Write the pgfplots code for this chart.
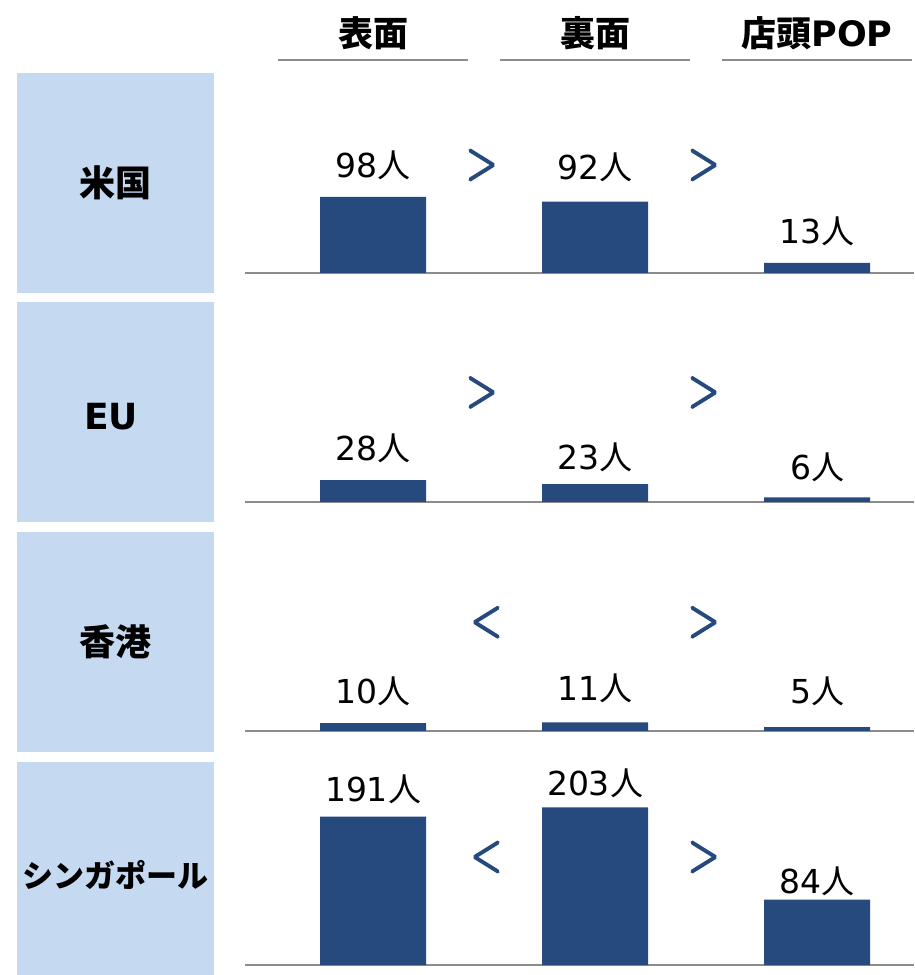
\documentclass[border=0pt]{standalone}
\usepackage{fontspec}
\usepackage{graphicx}
\usepackage{pgfplots}
\pgfplotsset{compat=1.18}
\setmainfont{DejaVu Sans}
\newfontfamily\cjk{Noto Sans CJK JP}
\newfontfamily\chevfont{latinmodern-math.otf}[FakeBold=4]

\definecolor{barblue}{HTML}{264A7D}
\definecolor{boxblue}{HTML}{C5D9F0}
\definecolor{rulegray}{HTML}{8C8C8C}

% one row of three bars; 1px of the reference = 1pt
\pgfplotsset{
  rowbars/.style={
    scale only axis, width=669pt, height=202pt,
    anchor=south west,
    xmin=-0.5766, xmax=2.4369, ymin=0, ymax=260,
    hide y axis, axis x line*=bottom, xtick=\empty,
    x axis line style={rulegray, line width=2.5pt, -},
    ybar, bar width=106pt, bar shift=0pt, clip=false,
    visualization depends on={value \thisrow{s} \as \lshift},
    nodes near coords={\pgfmathprintnumber[assume math mode=true]{\pgfplotspointmeta}{\cjk 人}},
    every node near coord/.append style={anchor=base, yshift=\lshift pt,
      font=\fontsize{33}{38}\selectfont, text=black, inner sep=0pt},
  },
  bars/.style={fill=barblue, draw=none},
}
% comparison signs
\newcommand{\gt}{{\chevfont\fontsize{20.74}{24}\selectfont\scalebox{1.9}[2.5]{>}}}
\newcommand{\lt}{{\chevfont\fontsize{20.74}{24}\selectfont\scalebox{1.9}[2.5]{<}}}

\begin{document}
\begin{tikzpicture}
\useasboundingbox (0pt,0pt) rectangle (914pt,975pt);

% row label boxes
\fill[boxblue] (17pt,682pt) rectangle (214pt,902pt);
\fill[boxblue] (17pt,453pt) rectangle (214pt,673pt);
\fill[boxblue] (17pt,223pt) rectangle (214pt,443pt);
\fill[boxblue] (17pt,0pt) rectangle (214pt,213pt);
\node[font=\cjk\bfseries\fontsize{36}{40}\selectfont] at (115.5pt,792pt) {米国};
\node[font=\bfseries\fontsize{36}{40}\selectfont] at (111pt,558pt) {EU};
\node[font=\cjk\bfseries\fontsize{36}{40}\selectfont] at (115.5pt,333pt) {香港};
\node[font=\cjk\bfseries\fontsize{31}{36}\selectfont] at (115.5pt,100pt) {シンガポール};

% column headers
\node[font=\cjk\bfseries\fontsize{35}{40}\selectfont] at (373pt,942pt) {表面};
\node[font=\cjk\bfseries\fontsize{35}{40}\selectfont] at (595pt,942pt) {裏面};
\node[font=\bfseries\fontsize{35}{40}\selectfont] at (817pt,942pt) {{\cjk 店頭}POP};
\draw[rulegray, line width=2.5pt] (278pt,915pt) -- (468pt,915pt);
\draw[rulegray, line width=2.5pt] (500pt,915pt) -- (690pt,915pt);
\draw[rulegray, line width=2.5pt] (722pt,915pt) -- (912pt,915pt);

% 米国
\begin{axis}[rowbars, at={(245pt,702pt)}]
\addplot[bars] table {
x y s
0 98 19
1 92 22
2 13 19
};
\node[text=barblue] at (axis cs:0.49,139) {\gt};
\node[text=barblue] at (axis cs:1.49,139) {\gt};
\end{axis}

% EU
\begin{axis}[rowbars, at={(245pt,473pt)}]
\addplot[bars] table {
x y s
0 28 19.5
1 23 14.5
2 6 17.5
};
\node[text=barblue] at (axis cs:0.49,141) {\gt};
\node[text=barblue] at (axis cs:1.49,141) {\gt};
\end{axis}

% 香港
\begin{axis}[rowbars, at={(245pt,244pt)}]
\addplot[bars] table {
x y s
0 10 19.5
1 11 21.5
2 5 23.5
};
\node[text=barblue] at (axis cs:0.51,140) {\lt};
\node[text=barblue] at (axis cs:1.49,140) {\gt};
\end{axis}

% シンガポール
\begin{axis}[rowbars, at={(245pt,10pt)}]
\addplot[bars] table {
x y s
0 191 15
1 203 11.5
2 84 6.5
};
\node[text=barblue] at (axis cs:0.51,139) {\lt};
\node[text=barblue] at (axis cs:1.49,139) {\gt};
\end{axis}
\end{tikzpicture}
\end{document}
